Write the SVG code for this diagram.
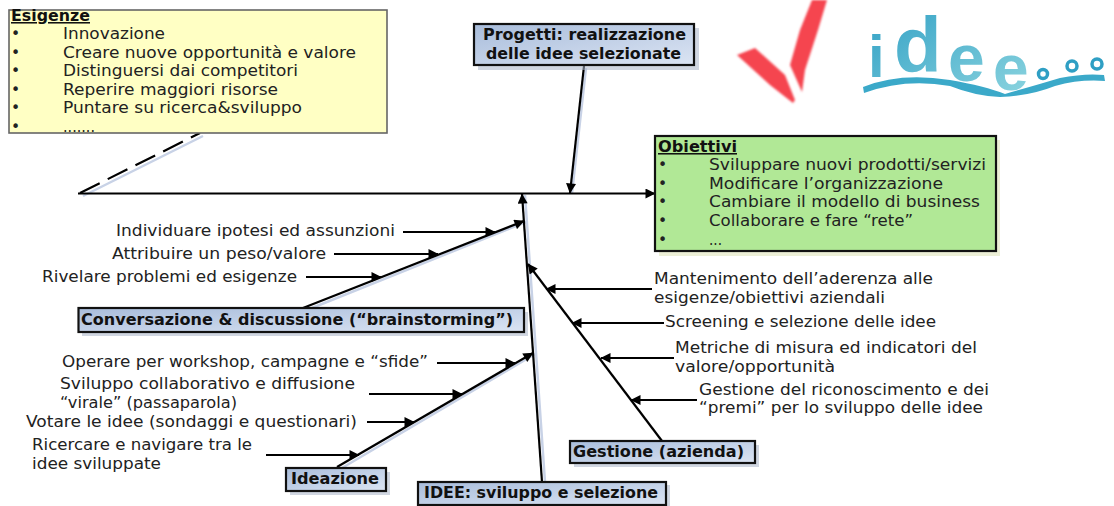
<svg xmlns="http://www.w3.org/2000/svg" width="1114" height="506" viewBox="0 0 1114 506">
<style>
text{font-family:"DejaVu Sans","Open Sans",sans-serif;font-size:15.5px;fill:#222}
.h{font-weight:700;fill:#111}
.u{font-weight:700;text-decoration:underline;fill:#111}
.blue{fill:url(#bl);stroke:#111;stroke-width:2.2}
.c{stroke:#000;stroke-width:2.2;fill:none;marker-end:url(#a)}
.s{stroke:#c8d2e6;stroke-width:2.5;fill:none}
.sh{fill:#aab4c8;opacity:.55}
.lg{font-family:"Liberation Sans",Arial,sans-serif;font-weight:700;fill:url(#lo)}
</style>
<defs>
<marker id="a" viewBox="0 0 10 10" refX="9.500" refY="5" markerWidth="13" markerHeight="10" markerUnits="userSpaceOnUse" orient="auto"><path d="M0 0L10 5L0 10Z" fill="#000"/></marker>
<linearGradient id="bl" x1="0" y1="0" x2="1" y2="1"><stop offset="0" stop-color="#a9bddb"/><stop offset="1" stop-color="#dbe4f3"/></linearGradient>
<linearGradient id="lo" x1="0" y1="0" x2="1" y2="1"><stop offset="0" stop-color="#2f9fc4"/><stop offset="1" stop-color="#8fd6e0"/></linearGradient>
<filter id="b" x="-10%" y="-10%" width="120%" height="120%"><feGaussianBlur stdDeviation="1"/></filter>
</defs>
<rect width="1114" height="506" fill="#fff"/>
<g id="connectors">
<path class="s" d="M83 196L203 136M572 193L586 68M307 310L526 222M342 468L535 354M545 482L525 195"/>
<path d="M80 193L200 133" stroke="#000" stroke-width="2.2" stroke-dasharray="22 9" fill="none"/>
<path class="c" d="M78 193.500H655"/>
<path class="c" d="M584 66L570 193"/>
<path class="c" d="M542 482L522 194"/>
<path class="c" d="M303 308L524 221"/>
<path class="c" d="M337 467L533 353"/>
<path class="c" d="M662 441L528 264"/>
<path class="c" d="M403 232H495"/>
<path class="c" d="M334 254H438"/>
<path class="c" d="M306 277H381"/>
<path class="c" d="M437 363H515"/>
<path class="c" d="M369 394H462"/>
<path class="c" d="M367 422H414"/>
<path class="c" d="M266 455H359"/>
<path class="c" d="M652 289H546"/>
<path class="c" d="M664 323H572"/>
<path class="c" d="M674 358H601"/>
<path class="c" d="M697 400H631"/>
</g>
<g id="esigenze">
<rect x="9" y="10" width="378" height="123" fill="#ffffc4" stroke="#666" stroke-width="1.600"/>
<text class="u" x="11" y="21" textLength="79" lengthAdjust="spacingAndGlyphs">Esigenze</text>
<text x="11" y="39">•</text><text x="63" y="39" textLength="102" lengthAdjust="spacingAndGlyphs">Innovazione</text>
<text x="11" y="58">•</text><text x="63" y="58" textLength="293" lengthAdjust="spacingAndGlyphs">Creare nuove opportunità e valore</text>
<text x="11" y="76">•</text><text x="63" y="76" textLength="235" lengthAdjust="spacingAndGlyphs">Distinguersi dai competitori</text>
<text x="11" y="95">•</text><text x="63" y="95" textLength="215" lengthAdjust="spacingAndGlyphs">Reperire maggiori risorse</text>
<text x="11" y="113">•</text><text x="63" y="113" textLength="239" lengthAdjust="spacingAndGlyphs">Puntare su ricerca&amp;sviluppo</text>
<text x="11" y="132">•</text><text x="63" y="132" textLength="32" lengthAdjust="spacingAndGlyphs">.......</text>
</g>
<g id="progetti">
<rect class="sh" x="478" y="28" width="221" height="42"/>
<rect class="blue" x="474" y="24" width="220" height="41"/>
<text class="h" x="483" y="40" textLength="203" lengthAdjust="spacingAndGlyphs">Progetti: realizzazione</text>
<text class="h" x="486" y="59" textLength="195" lengthAdjust="spacingAndGlyphs">delle idee selezionate</text>
</g>
<g id="obiettivi">
<rect x="659" y="140" width="341" height="116" fill="#e4e8c4" opacity=".7"/>
<rect x="655" y="136" width="341" height="115" fill="#b1e896" stroke="#111" stroke-width="2.200"/>
<text class="u" x="658" y="152" textLength="79" lengthAdjust="spacingAndGlyphs">Obiettivi</text>
<text x="658" y="170">•</text><text x="709" y="170" textLength="277" lengthAdjust="spacingAndGlyphs">Sviluppare nuovi prodotti/servizi</text>
<text x="658" y="189">•</text><text x="709" y="189" textLength="234" lengthAdjust="spacingAndGlyphs">Modificare l’organizzazione</text>
<text x="658" y="207">•</text><text x="709" y="207" textLength="271" lengthAdjust="spacingAndGlyphs">Cambiare il modello di business</text>
<text x="658" y="226">•</text><text x="709" y="226" textLength="204" lengthAdjust="spacingAndGlyphs">Collaborare e fare “rete”</text>
<text x="658" y="245">•</text><text x="709" y="245" textLength="13" lengthAdjust="spacingAndGlyphs">...</text>
</g>
<g id="conversazione">
<rect class="sh" x="82" y="312" width="446" height="24"/>
<rect class="blue" x="78.500" y="308" width="445.500" height="24"/>
<text class="h" x="81" y="325" textLength="432" lengthAdjust="spacingAndGlyphs">Conversazione &amp; discussione (“brainstorming”)</text>
</g>
<g id="ideazione">
<rect class="sh" x="290" y="472" width="100" height="23"/>
<rect class="blue" x="286" y="468" width="100" height="23"/>
<text class="h" x="291" y="484" textLength="88" lengthAdjust="spacingAndGlyphs">Ideazione</text>
</g>
<g id="idee">
<rect class="sh" x="422" y="485" width="248" height="21"/>
<rect class="blue" x="418" y="482" width="248" height="23"/>
<text class="h" x="424" y="498" textLength="234" lengthAdjust="spacingAndGlyphs">IDEE: sviluppo e selezione</text>
</g>
<g id="gestione">
<rect class="sh" x="574" y="445" width="185" height="22"/>
<rect class="blue" x="570" y="441" width="185" height="22"/>
<text class="h" x="573" y="457" textLength="171" lengthAdjust="spacingAndGlyphs">Gestione (azienda)</text>
</g>
<g id="labels">
<text x="116" y="236" textLength="279" lengthAdjust="spacingAndGlyphs">Individuare ipotesi ed assunzioni</text>
<text x="112" y="259" textLength="214" lengthAdjust="spacingAndGlyphs">Attribuire un peso/valore</text>
<text x="42" y="282" textLength="255" lengthAdjust="spacingAndGlyphs">Rivelare problemi ed esigenze</text>
<text x="62" y="367" textLength="366" lengthAdjust="spacingAndGlyphs">Operare per workshop, campagne e “sfide”</text>
<text x="60" y="389" textLength="295" lengthAdjust="spacingAndGlyphs">Sviluppo collaborativo e diffusione</text>
<text x="60" y="408" textLength="177" lengthAdjust="spacingAndGlyphs">“virale” (passaparola)</text>
<text x="26" y="427" textLength="331" lengthAdjust="spacingAndGlyphs">Votare le idee (sondaggi e questionari)</text>
<text x="32" y="450" textLength="220" lengthAdjust="spacingAndGlyphs">Ricercare e navigare tra le</text>
<text x="32" y="469" textLength="129" lengthAdjust="spacingAndGlyphs">idee sviluppate</text>
<text x="654" y="284" textLength="279" lengthAdjust="spacingAndGlyphs">Mantenimento dell’aderenza alle</text>
<text x="654" y="303" textLength="231" lengthAdjust="spacingAndGlyphs">esigenze/obiettivi aziendali</text>
<text x="665" y="327" textLength="271" lengthAdjust="spacingAndGlyphs">Screening e selezione delle idee</text>
<text x="675" y="353" textLength="302" lengthAdjust="spacingAndGlyphs">Metriche di misura ed indicatori del</text>
<text x="675" y="372" textLength="160" lengthAdjust="spacingAndGlyphs">valore/opportunità</text>
<text x="699" y="395" textLength="290" lengthAdjust="spacingAndGlyphs">Gestione del riconoscimento e dei</text>
<text x="699" y="413" textLength="284" lengthAdjust="spacingAndGlyphs">“premi” per lo sviluppo delle idee</text>
</g>
<g id="logo">
<g fill="#f5444f" filter="url(#b)">
<path d="M737 55L755 48L785 75L795 100L793 103L770 85Z"/>
<path d="M790 65L800 30L812 0H827L818 30L805 70L802 92Z"/>
</g>
<text class="lg"><tspan x="868" y="77" style="font-size:60px">i</tspan><tspan x="894" y="72" style="font-size:78px">d</tspan><tspan x="948" y="81" style="font-size:66px">e</tspan><tspan x="993" y="90" style="font-size:64px">e</tspan></text>
<g fill="none" stroke="#2f9fc4" stroke-width="3.500"><circle cx="1043" cy="74" r="4.500"/><circle cx="1072" cy="66" r="5"/><circle cx="1097" cy="64" r="5"/></g>
<path d="M863 87Q900 72 950 80Q985 86 1005 94Q1040 84 1060 78Q1085 73 1104 75L1105 81Q1080 79 1055 86Q1030 96 1000 97Q975 96 950 86Q905 78 864 93Z" fill="#3ba9c9"/>
</g>
</svg>
